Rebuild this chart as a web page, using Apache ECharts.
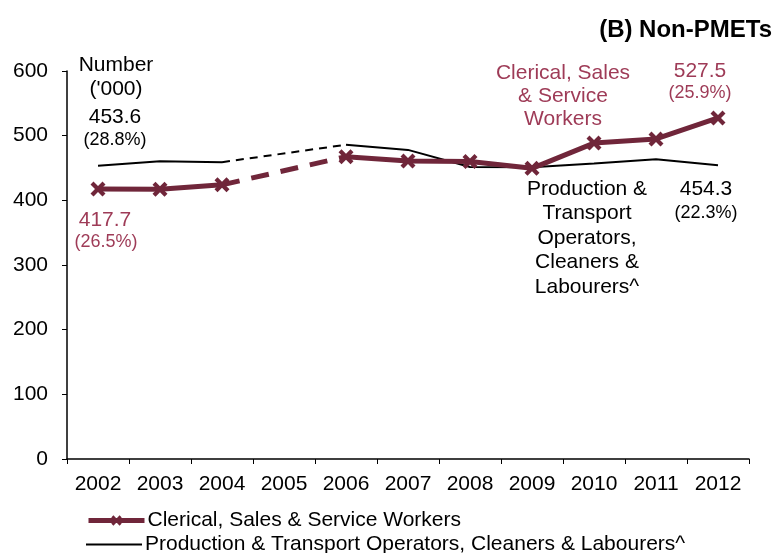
<!DOCTYPE html>
<html><head><meta charset="utf-8">
<script src="https://cdn.jsdelivr.net/npm/echarts@6/dist/echarts.min.js"></script>
<style>html,body{margin:0;padding:0;background:#fff}#c{width:776px;height:553px}</style>
</head><body><div id="c"></div>
<script>
const years = ['2002','2003','2004','2005','2006','2007','2008','2009','2010','2011','2012'];
const clerical = [417.7, 417, 424, null, 467.5, 461, 460, 449.5, 488.5, 495, 527.5];
const production = [453.6, 460.5, 459, null, 486, 478, 451.5, 451, 457, 463.5, 454.3];
const yTicks = [0, 100, 200, 300, 400, 500, 600];

const MAROON = '#70263A';
const MAROON_TXT = '#9E3B57';
const FONT = 'Liberation Sans, Arial, sans-serif';
const CLER_NAME = 'Clerical, Sales & Service Workers';
const PROD_NAME = 'Production & Transport Operators, Cleaners & Labourers^';

function gapBridge(arr) {
  const out = arr.map(() => null);
  arr.forEach((v, i) => {
    if (v === null) {
      if (i > 0) out[i - 1] = arr[i - 1];
      if (i < arr.length - 1) out[i + 1] = arr[i + 1];
    }
  });
  return out;
}

const xMark = 'path://M2,0 L5,3 L8,0 L10,2 L7,5 L10,8 L8,10 L5,7 L2,10 L0,8 L3,5 L0,2 Z';

const chart = echarts.init(document.getElementById('c'));
const txt = (x, y, text, opt) => ({
  type: 'text', x: x, y: y,
  style: Object.assign({ text: text, font: '21px ' + FONT, fill: '#000', textAlign: 'center', textVerticalAlign: 'middle' }, opt || {})
});
const PCT = '18px ' + FONT;

const legendBase = {
  orient: 'horizontal', left: 86, itemGap: 0, itemWidth: 56, padding: 0,
  textStyle: { color: '#000', fontSize: 21, fontFamily: FONT, padding: [0, 0, 0, -2] }
};

chart.setOption({
  animation: false,
  grid: { left: 67, right: 27, top: 71, bottom: 94 },
  xAxis: {
    type: 'category', data: years, boundaryGap: true,
    axisLine: { lineStyle: { color: '#000', width: 1.5 } },
    axisTick: { show: true, length: 5, lineStyle: { color: '#000' } },
    axisLabel: { color: '#000', fontSize: 21, fontFamily: FONT, margin: 15 }
  },
  yAxis: {
    type: 'value', min: yTicks[0], max: yTicks[yTicks.length - 1], interval: 100,
    axisLine: { show: true, lineStyle: { color: '#000', width: 1.5 } },
    axisTick: { show: true, length: 5, lineStyle: { color: '#000' } },
    splitLine: { show: false },
    axisLabel: { color: '#000', fontSize: 21, fontFamily: FONT, margin: 19 }
  },
  legend: [
    Object.assign({}, legendBase, { top: 510, itemHeight: 13, data: [{ name: CLER_NAME, lineStyle: { width: 5 } }] }),
    Object.assign({}, legendBase, { top: 534, itemHeight: 2, data: [{ name: PROD_NAME, icon: 'rect', itemStyle: { color: '#000' } }] })
  ],
  series: [
    {
      name: PROD_NAME, type: 'line', data: production,
      connectNulls: false, symbol: 'none',
      lineStyle: { color: '#000', width: 2 }, itemStyle: { color: '#000' }, z: 2
    },
    {
      name: 'prodGap', type: 'line', data: gapBridge(production), connectNulls: true, symbol: 'none',
      lineStyle: { color: '#000', width: 2, type: [8, 6] }, z: 2
    },
    {
      name: CLER_NAME, type: 'line', data: clerical,
      connectNulls: false, symbol: xMark, symbolSize: 15, showAllSymbol: true,
      lineStyle: { color: MAROON, width: 5 }, itemStyle: { color: MAROON }, z: 3
    },
    {
      name: 'clerGap', type: 'line', data: gapBridge(clerical), connectNulls: true, symbol: 'none',
      lineStyle: { color: MAROON, width: 5, type: [18, 12] }, z: 3
    }
  ],
  graphic: [
    { type: 'text', x: 772, y: 30, style: { text: '(B) Non-PMETs', font: 'bold 24px ' + FONT, fill: '#000', textAlign: 'right', textVerticalAlign: 'middle' } },
    txt(116, 65, 'Number'),
    txt(116, 89, "('000)"),
    txt(115, 117, '453.6'),
    txt(115, 140, '(28.8%)', { font: PCT }),
    txt(105, 220, '417.7', { fill: MAROON_TXT }),
    txt(106, 242, '(26.5%)', { fill: MAROON_TXT, font: PCT }),
    txt(563, 73, 'Clerical, Sales', { fill: MAROON_TXT }),
    txt(563, 96, '& Service', { fill: MAROON_TXT }),
    txt(563, 119, 'Workers', { fill: MAROON_TXT }),
    txt(700, 71, '527.5', { fill: MAROON_TXT }),
    txt(700, 93, '(25.9%)', { fill: MAROON_TXT, font: PCT }),
    txt(587, 189, 'Production &'),
    txt(587, 213, 'Transport'),
    txt(587, 238, 'Operators,'),
    txt(587, 262, 'Cleaners &'),
    txt(587, 287, 'Labourers^'),
    txt(706, 189, '454.3'),
    txt(706, 213, '(22.3%)', { font: PCT })
  ]
});
</script>
</body></html>
